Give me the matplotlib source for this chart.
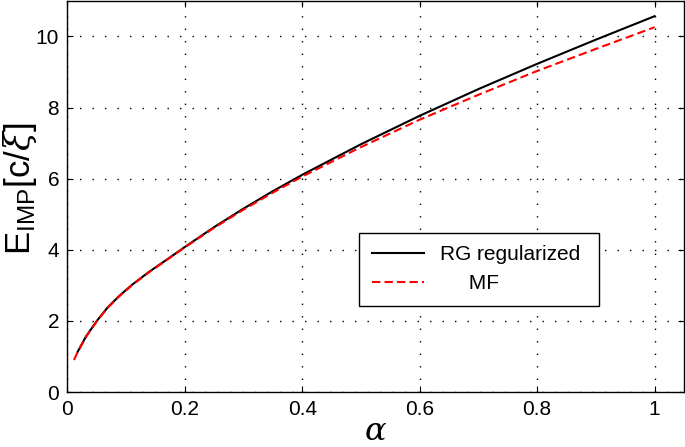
import matplotlib
matplotlib.use("Agg")
import matplotlib.pyplot as plt

plt.rcParams['font.family'] = ['Liberation Sans', 'DejaVu Sans']
plt.rcParams['mathtext.fontset'] = 'custom'
plt.rcParams['mathtext.rm'] = 'Liberation Sans'
plt.rcParams['mathtext.it'] = 'DejaVu Serif:italic'

# RG regularized curve
alpha_rg = [0.0173, 0.0315, 0.05, 0.068, 0.088, 0.111, 0.139, 0.168, 0.2, 0.25,
            0.3, 0.35, 0.4, 0.5, 0.6, 0.7, 0.8, 0.9, 1.0]
e_rg = [1.13, 1.56, 2.0, 2.37, 2.70, 3.03, 3.38, 3.71, 4.08, 4.64,
        5.16, 5.65, 6.11, 6.97, 7.77, 8.52, 9.23, 9.91, 10.57]

# mean field curve
alpha_mf = [0.011, 0.0173, 0.0315, 0.05, 0.068, 0.088, 0.111, 0.139, 0.168, 0.2,
            0.25, 0.3, 0.35, 0.4, 0.5, 0.6, 0.7, 0.8, 0.9, 1.0]
e_mf = [0.90, 1.12, 1.55, 1.99, 2.36, 2.69, 3.02, 3.37, 3.70, 4.07,
        4.62, 5.13, 5.61, 6.06, 6.89, 7.66, 8.36, 9.03, 9.65, 10.26]

xticks = [0, 0.2, 0.4, 0.6, 0.8, 1]
xtick_labels = ['0', '0.2', '0.4', '0.6', '0.8', '1']
yticks = [0, 2, 4, 6, 8, 10]

fig = plt.figure(figsize=(6.85, 4.47), dpi=100)
ax = fig.add_axes([0.0985, 0.123, 0.9, 0.875])

ax.plot(alpha_rg, e_rg, color='black', lw=1.5, label='RG regularized ')
ax.plot(alpha_mf, e_mf, color='red', lw=1.5, ls=(0, (4, 2)), label='     MF')

ax.set_xlim(0, 1.05)
ax.set_ylim(0, 11)
ax.set_xticks(xticks)
ax.set_xticklabels(xtick_labels)
ax.set_yticks(yticks)
ax.tick_params(direction='in', length=4.5, width=0.8, labelsize=15,
               top=True, right=True, pad=6)
for s in ax.spines.values():
    s.set_linewidth(1.0)

ax.grid(True, color='black', lw=1.0, ls=(0, (1, 8)))

ax.set_xlabel(r'$\alpha$', fontsize=23)
ax.xaxis.set_label_coords(0.5, -0.065)
ax.xaxis.label.set_va('top')
ax.set_ylabel(r'$\mathrm{E}_{\mathrm{IMP}}[\mathrm{c}/\xi]$', fontsize=25)
ax.yaxis.set_label_coords(-0.046, 0.52)

leg = ax.legend(loc='lower left', bbox_to_anchor=(0.473, 0.22), borderaxespad=0,
                fontsize=15, handlelength=2.5, borderpad=0.6, fancybox=False,
                framealpha=1, edgecolor='black')
leg.get_frame().set_linewidth(1.0)

fig.savefig('out.png', dpi=100)
